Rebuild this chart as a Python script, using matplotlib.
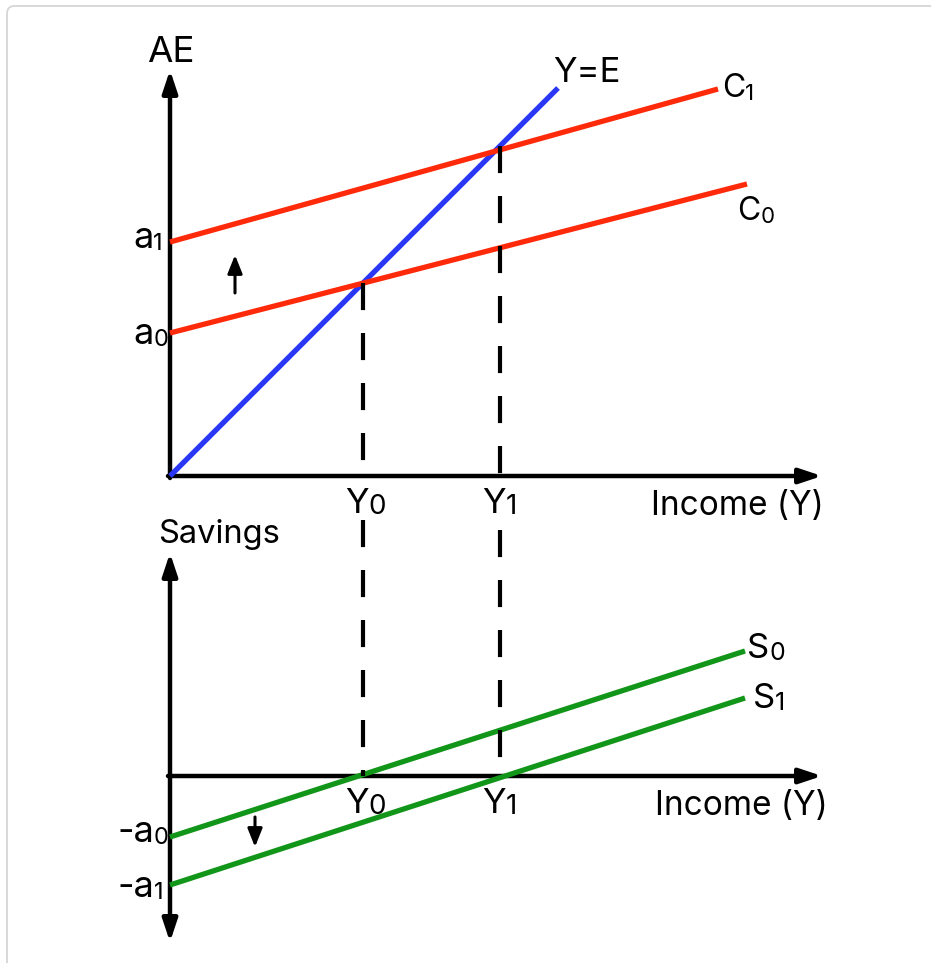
import matplotlib
matplotlib.use("Agg")
import matplotlib.pyplot as plt
from matplotlib.patches import FancyBboxPatch

# data, in drawing units (1 unit ~ 1 px of the original sketch)
# top panel: aggregate expenditure
ye_x = [0, 388]
ye_y = [0, 388]
c0_x = [0, 577]
c0_y = [143, 292]
c1_x = [0, 548]
c1_y = [234, 387]
y_eq = [193, 330]            # Y0, Y1
y_subs = ["0", "1"]
# bottom panel: savings
s0_x = [0, 575]
s0_y = [-61, 125]
s1_x = [0, 575]
s1_y = [-109, 78]

RED = "#ff2a0a"
BLUE = "#2a36f5"
GREEN = "#12961a"

plt.rcParams["font.family"] = ["Inter", "DejaVu Sans"]

W, H = 931, 963
fig = plt.figure(figsize=(W / 100, H / 100), dpi=100)

# grey card frame
fig.add_artist(FancyBboxPatch((7 / W, -0.05), 1.1, 1 - 6 / H + 0.05,
                              boxstyle="round,pad=0,rounding_size=0.008",
                              transform=fig.transFigure, fc="none",
                              ec="#d6d6d6", lw=1.3, zorder=-1))

# top origin at px (170, 476), bottom origin at px (170, 776)
ax = fig.add_axes([0, 0, 1, 1])
ax.set_xlim(-170, W - 170)
ax.set_ylim(476 - H, 476)
ax.axis("off")

bx = fig.add_axes([0, 0, 1, 1])
bx.set_xlim(-170, W - 170)
bx.set_ylim(776 - H, 776)
bx.axis("off")


def axis_arrow(a, start, end, style="-|>"):
    a.annotate("", xy=end, xytext=start,
               arrowprops=dict(arrowstyle=style + ",head_length=0.45,head_width=0.15",
                               lw=3.2, color="black", shrinkA=0, shrinkB=0,
                               mutation_scale=30), zorder=1)


def small_arrow(a, start, end):
    a.annotate("", xy=end, xytext=start,
               arrowprops=dict(arrowstyle="-|>,head_length=0.55,head_width=0.22",
                               lw=2.2, color="black", shrinkA=0, shrinkB=0,
                               mutation_scale=20))


def label(a, x, y, main, sub=None, size=25, subsize=20):
    t = a.text(x, y, main, fontsize=size, ha="left", va="baseline")
    if sub:
        a.annotate(sub, xy=(1, 0), xycoords=t, fontsize=subsize,
                   ha="left", va="bottom")


# ---- top panel ----
axis_arrow(ax, (0, -2), (0, 406))
axis_arrow(ax, (-2, 0), (652, 0))
ax.plot(ye_x, ye_y, color=BLUE, lw=3.8, solid_capstyle="butt", zorder=2)
ax.plot(c0_x, c0_y, color=RED, lw=3.8, solid_capstyle="butt", zorder=3)
ax.plot(c1_x, c1_y, color=RED, lw=3.8, solid_capstyle="butt", zorder=3)
for y in y_eq:
    ax.plot([y, y], [y, 0], color="black", lw=3, dashes=(6.5, 5.5), zorder=4)
small_arrow(ax, (65, 183), (65, 221))

label(ax, -23, 414, "AE", size=26.5)
label(ax, 383, 394, "Y=E")
label(ax, 552, 379, "C", "1", size=23, subsize=16)
label(ax, 567, 256, "C", "0", size=23, subsize=16)
label(ax, -37, 228, "a", "1", size=26, subsize=17)
label(ax, -37, 132, "a", "0", size=26, subsize=17)
for y, s in zip(y_eq, y_subs):
    label(ax, y - 18, -37, "Y", s)
label(ax, 481, -39, "Income (Y)", size=24)

# ---- bottom panel ----
axis_arrow(bx, (0, -166), (0, 223), style="<|-|>")
axis_arrow(bx, (-2, 0), (652, 0))
bx.plot(s0_x, s0_y, color=GREEN, lw=3.8, solid_capstyle="butt", zorder=2)
bx.plot(s1_x, s1_y, color=GREEN, lw=3.8, solid_capstyle="butt", zorder=2)
for y, top in zip(y_eq, [256, 246]):
    bx.plot([y, y], [top, 0], color="black", lw=3, dashes=(6.5, 5.5), zorder=4)
small_arrow(bx, (85, -41), (85, -71))

label(bx, -12, 233, "Savings", size=23.5)
for y, s in zip(y_eq, y_subs):
    label(bx, y - 18, -37, "Y", s)
label(bx, 485, -39, "Income (Y)", size=24)
label(bx, -53, -66, "-a", "0", size=26, subsize=17)
label(bx, -53, -121, "-a", "1", size=26, subsize=17)
label(bx, 577, 118, "S", "0", subsize=18)
label(bx, 583, 68, "S", "1", subsize=18)

fig.savefig("out.png", dpi=100)
